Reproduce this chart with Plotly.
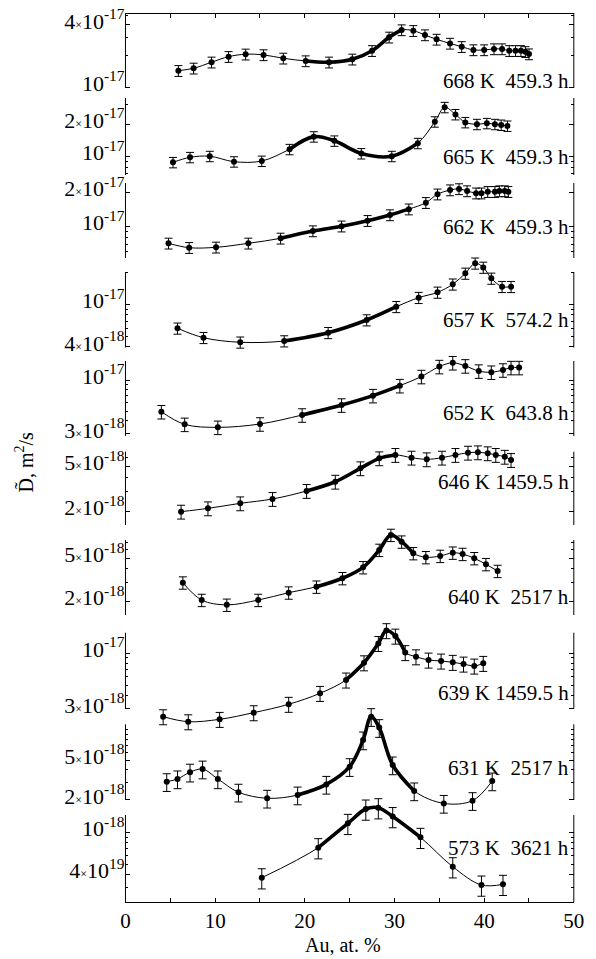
import math
import plotly.graph_objects as go

# ---------------- data ----------------
panel_labels = ["668 K  459.3 h", "665 K  459.3 h", "662 K  459.3 h", "657 K  574.2 h",
                "652 K  643.8 h", "646 K 1459.5 h", "640 K  2517 h", "639 K 1459.5 h",
                "631 K  2517 h", "573 K  3621 h"]

au_668 = [5.9, 7.6, 9.6, 11.5, 13.4, 15.4, 17.6, 20.1, 22.7, 25.3, 27.5, 29.4, 30.8, 32.1,
          33.4, 34.7, 36.2, 37.5, 38.8, 40.0, 41.1, 42.0, 42.8, 43.5, 44.1, 44.6, 45.0]
D_668 = [1.44e-17, 1.52e-17, 1.74e-17, 1.97e-17, 2.08e-17, 2.05e-17, 1.90e-17, 1.79e-17,
         1.74e-17, 1.86e-17, 2.25e-17, 3.04e-17, 3.58e-17, 3.52e-17, 3.20e-17, 2.90e-17,
         2.65e-17, 2.46e-17, 2.29e-17, 2.29e-17, 2.34e-17, 2.34e-17, 2.25e-17, 2.25e-17,
         2.25e-17, 2.20e-17, 2.09e-17]

au_665 = [5.3, 7.2, 9.4, 12.1, 15.2, 18.3, 21.0, 23.3, 26.3, 29.7, 32.6, 34.5, 35.6, 36.8,
          37.9, 39.2, 40.3, 41.2, 41.9, 42.6]
D_665 = [8.87e-18, 9.87e-18, 1.01e-17, 9.0e-18, 9.12e-18, 1.17e-17, 1.53e-17, 1.40e-17,
         1.07e-17, 1.01e-17, 1.33e-17, 2.10e-17, 2.85e-17, 2.45e-17, 2.07e-17, 1.99e-17,
         2.03e-17, 1.99e-17, 1.96e-17, 1.92e-17]

au_662 = [4.8, 7.1, 10.1, 13.7, 17.3, 20.9, 24.1, 27.0, 29.5, 31.6, 33.5, 34.8, 36.2, 37.2,
          38.1, 39.1, 39.7, 40.4, 41.2, 41.7, 42.3, 42.7]
D_662 = [7.13e-18, 6.52e-18, 6.57e-18, 7.13e-18, 7.89e-18, 9.16e-18, 1.01e-17, 1.13e-17,
         1.27e-17, 1.43e-17, 1.63e-17, 1.94e-17, 2.11e-17, 2.16e-17, 2.07e-17, 1.98e-17,
         1.98e-17, 2.04e-17, 2.04e-17, 2.07e-17, 2.07e-17, 2.04e-17]

au_657 = [5.8, 8.7, 12.8, 17.7, 22.6, 26.9, 30.2, 32.7, 34.8, 36.5, 37.9, 39.0, 39.9, 40.8,
          42.0, 43.0]
D_657 = [5.98e-18, 4.88e-18, 4.42e-18, 4.54e-18, 5.43e-18, 7.15e-18, 9.53e-18, 1.16e-17,
         1.30e-17, 1.55e-17, 1.96e-17, 2.44e-17, 2.23e-17, 1.76e-17, 1.47e-17, 1.47e-17]

au_652 = [4.0, 6.6, 10.3, 15.0, 19.7, 24.1, 27.6, 30.6, 33.0, 35.0, 36.5, 37.9, 39.4, 40.8,
          42.1, 43.0, 43.9]
D_652 = [4.92e-18, 3.71e-18, 3.47e-18, 3.74e-18, 4.57e-18, 5.71e-18, 7.05e-18, 8.81e-18,
         1.08e-17, 1.35e-17, 1.47e-17, 1.37e-17, 1.22e-17, 1.19e-17, 1.25e-17, 1.32e-17,
         1.32e-17]

au_646 = [6.2, 9.2, 12.8, 16.4, 20.2, 23.4, 26.2, 28.3, 30.1, 31.9, 33.6, 35.3, 36.8, 38.2,
          39.3, 40.4, 41.3, 42.3, 43.0]
D_646 = [2.00e-18, 2.14e-18, 2.37e-18, 2.59e-18, 3.05e-18, 3.68e-18, 4.84e-18, 5.93e-18,
         6.35e-18, 6.01e-18, 5.81e-18, 6.01e-18, 6.35e-18, 6.65e-18, 6.70e-18, 6.57e-18,
         6.35e-18, 6.12e-18, 5.73e-18]

au_640 = [6.4, 8.5, 11.3, 14.8, 18.2, 21.3, 24.2, 26.5, 28.3, 29.6, 30.8, 32.1, 33.5, 35.1,
          36.5, 37.6, 38.9, 40.2, 41.5]
D_640 = [2.99e-18, 2.07e-18, 1.87e-18, 2.07e-18, 2.42e-18, 2.74e-18, 3.28e-18, 4.13e-18,
         5.96e-18, 8.18e-18, 7.10e-18, 5.56e-18, 5.11e-18, 5.25e-18, 5.62e-18, 5.47e-18,
         5.00e-18, 4.41e-18, 3.82e-18]

au_639 = [4.2, 7.0, 10.5, 14.3, 18.2, 21.7, 24.6, 26.6, 28.2, 29.1, 30.1, 31.2, 32.4, 33.8,
          35.2, 36.5, 37.7, 38.9, 39.9]
D_639 = [2.54e-18, 2.28e-18, 2.40e-18, 2.77e-18, 3.32e-18, 4.20e-18, 5.60e-18, 8.11e-18,
         1.23e-17, 1.62e-17, 1.44e-17, 1.01e-17, 9.23e-18, 8.60e-18, 8.42e-18, 8.19e-18,
         7.89e-18, 7.56e-18, 8.01e-18]

au_631 = [4.6, 5.8, 7.2, 8.6, 10.3, 12.6, 15.8, 19.2, 22.4, 25.0, 26.5, 27.4, 28.3, 29.8,
          32.2, 35.5, 38.7, 40.9]
D_631 = [3.04e-18, 3.24e-18, 3.78e-18, 4.06e-18, 3.24e-18, 2.39e-18, 2.08e-18, 2.24e-18,
         2.86e-18, 4.29e-18, 7.91e-18, 1.35e-17, 1.05e-17, 4.46e-18, 2.46e-18, 1.85e-18,
         1.97e-18, 3.09e-18]

au_573 = [15.2, 21.5, 24.8, 26.8, 28.2, 29.8, 32.9, 36.5, 39.7, 42.1]
D_573 = [3.69e-19, 7.18e-19, 1.23e-18, 1.69e-18, 1.74e-18, 1.43e-18, 9.03e-19, 4.71e-19,
         3.14e-19, 3.19e-19]

err_pct = [12, 11, 11, 12, 15, 14, 13, 16, 20, 22]

x_tick_vals = [0, 5, 10, 15, 20, 25, 30, 35, 40, 45, 50]
x_tick_text = ["0", "", "10", "", "20", "", "30", "", "40", "", "50"]

# major ticks (value, mantissa label, exponent label) and minor ticks per panel
major_ticks = [
    [(1e-17, "", "-17"), (4e-17, "4", "-17")],
    [(1e-17, "", "-17"), (2e-17, "2", "-17")],
    [(1e-17, "", "-17"), (2e-17, "2", "-17")],
    [(1e-17, "", "-17"), (4e-18, "4", "-18")],
    [(1e-17, "", "-17"), (3e-18, "3", "-18")],
    [(5e-18, "5", "-18"), (2e-18, "2", "-18")],
    [(5e-18, "5", "-18"), (2e-18, "2", "-18")],
    [(1e-17, "", "-17"), (3e-18, "3", "-18")],
    [(5e-18, "5", "-18"), (2e-18, "2", "-18")],
    [(1e-18, "", "-18"), (4e-19, "4", "19")],
]
minor_ticks = [
    [2e-17, 3e-17, 5e-17],
    [7e-18, 8e-18, 9e-18, 3e-17],
    [6e-18, 7e-18, 8e-18, 9e-18],
    [5e-18, 6e-18, 7e-18, 8e-18, 9e-18, 2e-17],
    [4e-18, 5e-18, 6e-18, 7e-18, 8e-18, 9e-18],
    [3e-18, 4e-18, 6e-18],
    [3e-18, 4e-18, 6e-18, 7e-18],
    [4e-18, 5e-18, 6e-18, 7e-18, 8e-18, 9e-18],
    [3e-18, 4e-18, 6e-18, 7e-18, 8e-18, 9e-18, 1e-17],
    [3e-19, 5e-19, 6e-19, 7e-19, 8e-19, 9e-19],
]

series = [(au_668, D_668), (au_665, D_665), (au_662, D_662), (au_657, D_657),
          (au_652, D_652), (au_646, D_646), (au_640, D_640), (au_639, D_639),
          (au_631, D_631), (au_573, D_573)]

# ---------------- layout / styling ----------------
W, H = 596, 959
X0_PX, X1_PX = 123.8, 584.5
FONT = "Liberation Serif"
PAD = 22

# panel frame (top px, bottom px) and log-scale calibration (px of ref, log10 ref, px/decade)
panel_box = [(13, 88), (98, 175), (183, 258), (272, 347.5), (361, 436),
             (451.7, 525), (540, 615), (632.7, 709), (724.3, 800), (815, 902)]
panel_cal = [(87, -17.0, 103), (156.7, -17.0, 108.6), (226.7, -17.0, 113),
             (304.5, -17.0, 106.5), (380, -17.0, 103), (466.7, math.log10(5e-18), 113),
             (558.3, math.log10(5e-18), 109), (653, -17.0, 107),
             (760, math.log10(5e-18), 100.5), (832.7, -18.0, 104)]
label_y_px = [80.7, 156.7, 226.7, 320, 413.3, 481.7, 596.7, 693.3, 768.3, 848.3]
thick_ranges = [(7, 12), (5, 10), (4, 9), (3, 6), (4, 7), (4, 8), (5, 11), (6, 11), (7, 14), (1, 6)]


def fy(px):
    return (H - px) / H


def tick_text(mant, exp):
    if mant:
        return f"{mant}<span style='font-size:12px'>×</span>10<sup>{exp}</sup>"
    return f"10<sup>{exp}</sup>"


fig = go.Figure()
layout = {}
shapes = []
annotations = []

for i, (au, D) in enumerate(series):
    yname = "y" if i == 0 else f"y{i + 1}"
    lname = "yaxis" if i == 0 else f"yaxis{i + 1}"
    # thin full curve
    fig.add_trace(go.Scatter(x=au, y=D, mode="lines", xaxis="x", yaxis=yname,
                             line=dict(color="black", width=1.0, shape="spline", smoothing=1.0),
                             hoverinfo="skip", showlegend=False))
    a, b = thick_ranges[i]
    fig.add_trace(go.Scatter(x=au[a:b + 1], y=D[a:b + 1], mode="lines", xaxis="x", yaxis=yname,
                             line=dict(color="black", width=3.6, shape="spline", smoothing=1.0),
                             hoverinfo="skip", showlegend=False))
    fig.add_trace(go.Scatter(x=au, y=D, mode="markers", xaxis="x", yaxis=yname,
                             marker=dict(color="black", size=6),
                             error_y=dict(type="percent", value=err_pct[i], color="black",
                                          thickness=1, width=4),
                             showlegend=False))

    top, bot = panel_box[i]
    ref_px, ref_log, ppd = panel_cal[i]
    d_top = max(top - PAD, 0)
    d_bot = bot + PAD
    dom = [fy(d_bot), min(1.0, fy(d_top))]
    rng = [ref_log + (ref_px - d_bot) / ppd, ref_log + (ref_px - d_top) / ppd]
    majors = major_ticks[i]
    layout[lname] = dict(
        type="log", domain=dom, range=rng, anchor="x",
        tickmode="array", tickvals=[m[0] for m in majors],
        ticktext=[tick_text(m[1], m[2]) for m in majors],
        ticks="inside", ticklen=5, tickwidth=1, tickcolor="black", mirror="ticks",
        showline=False, showgrid=False, zeroline=False,
        tickfont=dict(family=FONT, size=22, color="black"),
        ticklabelshift=-4,
        minor=dict(tickmode="array", tickvals=minor_ticks[i], ticks="inside",
                   ticklen=3, tickcolor="black", showgrid=False),
    )
    # frame lines of the panel
    for xp in (X0_PX, X1_PX):
        shapes.append(dict(type="line", xref="paper", yref="paper",
                           x0=xp / W, x1=xp / W, y0=fy(top), y1=fy(bot),
                           line=dict(color="black", width=1)))
    annotations.append(dict(text=panel_labels[i], xref="paper", yref="paper",
                            x=581.5 / W, y=fy(label_y_px[i]), xanchor="right", yanchor="middle",
                            showarrow=False, font=dict(family=FONT, size=21, color="black")))

# dummy trace to carry the top axis
fig.add_trace(go.Scatter(x=[None], y=[None], xaxis="x2", yaxis="y", showlegend=False,
                         hoverinfo="skip"))

layout["xaxis"] = dict(domain=[X0_PX / W, X1_PX / W], range=[0, 50], anchor="free",
                       position=fy(902), tickmode="array", tickvals=x_tick_vals,
                       ticktext=x_tick_text, ticks="inside", ticklen=4, tickcolor="black",
                       showline=True, linecolor="black", linewidth=1, showgrid=False,
                       zeroline=False, tickfont=dict(family=FONT, size=21, color="black"))
layout["xaxis2"] = dict(range=[0, 50], overlaying="x", side="top", anchor="free",
                        position=fy(13), tickmode="array", tickvals=x_tick_vals,
                        showticklabels=False, ticks="inside", ticklen=4, tickcolor="black",
                        showline=True, linecolor="black", linewidth=1, showgrid=False,
                        zeroline=False)

annotations.append(dict(text="Au, at. %", xref="paper", yref="paper", x=347 / W, y=fy(945),
                        xanchor="center", yanchor="middle", showarrow=False,
                        font=dict(family=FONT, size=20, color="black")))
annotations.append(dict(text="D\u0303, m<sup>2</sup>/s", xref="paper", yref="paper",
                        x=20 / W, y=fy(462), xanchor="center", yanchor="middle",
                        textangle=-90, showarrow=False,
                        font=dict(family=FONT, size=20, color="black")))

fig.update_layout(width=W, height=H, margin=dict(l=0, r=0, t=0, b=0),
                  paper_bgcolor="white", plot_bgcolor="rgba(0,0,0,0)",
                  showlegend=False, shapes=shapes, annotations=annotations, **layout)

fig.write_html("out.html")
